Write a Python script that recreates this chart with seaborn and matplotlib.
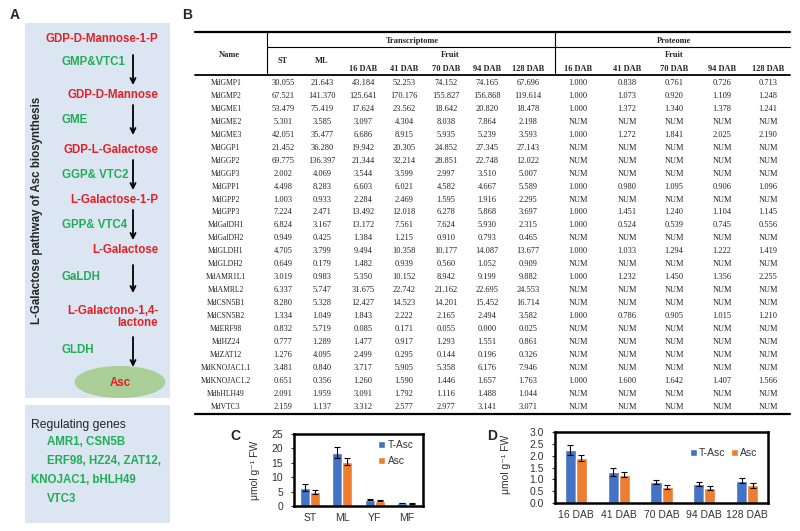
import pandas as pd
import matplotlib
matplotlib.use("Agg")
import matplotlib.pyplot as plt
from matplotlib.patches import Rectangle, Ellipse
import seaborn as sns

# -----------------------------------------------------
# Data
# -----------------------------------------------------

# Panel A: L-galactose pathway
metabolites = ["GDP-D-Mannose-1-P", "GDP-D-Mannose", "GDP-L-Galactose",
               "L-Galactose-1-P", "L-Galactose", "L-Galactono-1,4-\nlactone"]
enzymes = ["GMP&VTC1", "GME", "GGP& VTC2", "GPP& VTC4", "GaLDH", "GLDH"]
regulators = ["AMR1, CSN5B", "ERF98, HZ24, ZAT12,", "KNOJAC1, bHLH49", "VTC3"]

# Panel B: table
genes = ["MdGMP1", "MdGMP2", "MdGME1", "MdGME2", "MdGME3", "MdGGP1", "MdGGP2",
         "MdGGP3", "MdGPP1", "MdGPP2", "MdGPP3", "MdGalDH1", "MdGalDH2",
         "MdGLDH1", "MdGLDH2", "MdAMR1L1", "MdAMRL2", "MdCSN5B1", "MdCSN5B2",
         "MdERF98", "MdHZ24", "MdZAT12", "MdKNOJAC1.1", "MdKNOJAC1.2",
         "MdbHLH49", "MdVTC3"]
tr_st = [30.055, 67.521, 53.479, 5.301, 42.051, 21.452, 69.775, 2.002, 4.498,
         1.003, 7.224, 6.824, 0.949, 4.705, 0.649, 3.019, 6.337, 8.280, 1.334,
         0.832, 0.777, 1.276, 3.481, 0.651, 2.091, 2.159]
tr_ml = [21.643, 141.370, 75.419, 3.585, 35.477, 36.280, 136.397, 4.069, 8.283,
         0.933, 2.471, 3.167, 0.425, 3.799, 0.179, 0.983, 5.747, 5.328, 1.049,
         5.719, 1.289, 4.095, 0.840, 0.356, 1.959, 1.137]
tr_16 = [43.184, 125.641, 17.624, 3.097, 6.686, 19.942, 21.344, 3.544, 6.603,
         2.284, 13.492, 13.172, 1.384, 9.494, 1.482, 5.350, 31.675, 12.427,
         1.843, 0.085, 1.477, 2.499, 3.717, 1.260, 3.091, 3.312]
tr_41 = [52.253, 170.176, 23.562, 4.304, 8.915, 20.305, 32.214, 3.599, 6.021,
         2.469, 12.018, 7.561, 1.215, 10.358, 0.939, 10.152, 22.742, 14.523,
         2.222, 0.171, 0.917, 0.295, 5.905, 1.590, 1.792, 2.577]
tr_70 = [74.152, 155.827, 18.642, 8.038, 5.935, 24.852, 28.851, 2.997, 4.582,
         1.595, 6.278, 7.624, 0.910, 10.177, 0.560, 8.942, 21.162, 14.201,
         2.165, 0.055, 1.293, 0.144, 5.358, 1.446, 1.116, 2.977]
tr_94 = [74.165, 156.868, 20.820, 7.864, 5.239, 27.345, 22.748, 3.510, 4.667,
         1.916, 5.868, 5.930, 0.793, 14.087, 1.052, 9.199, 22.695, 15.452,
         2.494, 0.000, 1.551, 0.196, 6.176, 1.657, 1.488, 3.141]
tr_128 = [67.696, 119.614, 18.478, 2.198, 3.593, 27.143, 12.022, 5.007, 5.589,
          2.295, 3.697, 2.315, 0.465, 13.677, 0.909, 9.882, 24.553, 16.714,
          3.582, 0.025, 0.861, 0.326, 7.946, 1.763, 1.044, 3.071]
N = None
pr_16 = [1.000, 1.000, 1.000, N, 1.000, N, N, N, 1.000, N, 1.000, 1.000, N,
         1.000, N, 1.000, N, N, 1.000, N, N, N, N, 1.000, N, N]
pr_41 = [0.838, 1.073, 1.372, N, 1.272, N, N, N, 0.980, N, 1.451, 0.524, N,
         1.033, N, 1.232, N, N, 0.786, N, N, N, N, 1.600, N, N]
pr_70 = [0.761, 0.920, 1.340, N, 1.841, N, N, N, 1.095, N, 1.240, 0.539, N,
         1.294, N, 1.450, N, N, 0.905, N, N, N, N, 1.642, N, N]
pr_94 = [0.726, 1.109, 1.378, N, 2.025, N, N, N, 0.906, N, 1.104, 0.745, N,
         1.222, N, 1.356, N, N, 1.015, N, N, N, N, 1.407, N, N]
pr_128 = [0.713, 1.248, 1.241, N, 2.190, N, N, N, 1.096, N, 1.145, 0.556, N,
          1.419, N, 2.255, N, N, 1.210, N, N, N, N, 1.566, N, N]
tr_headers = ["ST", "ML", "16 DAB", "41 DAB", "70 DAB", "94 DAB", "128 DAB"]
pr_headers = ["16 DAB", "41 DAB", "70 DAB", "94 DAB", "128 DAB"]

# Panel C: tissues
c_tissues = ["ST", "ML", "YF", "MF"]
c_tasc = [6.4, 18.5, 2.2, 1.0]
c_tasc_err = [1.1, 2.0, 0.15, 0.1]
c_asc = [4.9, 15.3, 1.8, 0.85]
c_asc_err = [0.6, 1.2, 0.12, 0.1]

# Panel D: fruit development
d_stages = ["16 DAB", "41 DAB", "70 DAB", "94 DAB", "128 DAB"]
d_tasc = [2.24, 1.31, 0.88, 0.80, 0.95]
d_tasc_err = [0.2, 0.18, 0.08, 0.08, 0.09]
d_asc = [1.89, 1.19, 0.68, 0.63, 0.74]
d_asc_err = [0.13, 0.11, 0.10, 0.10, 0.10]

# -----------------------------------------------------
# Figure
# -----------------------------------------------------
sns.set_style("white")
plt.rcParams["font.family"] = ["Liberation Sans", "DejaVu Sans"]

RED = "#e41f26"
GREEN = "#1fae55"
BLUE = "#4472c4"
ORANGE = "#ed7d31"
SERIF = ["Liberation Serif", "DejaVu Serif"]
FS_A = 8.3

fig = plt.figure(figsize=(8, 5.31), dpi=100)
bg = fig.add_axes([0, 0, 1, 1])
bg.set_xlim(0, 800)
bg.set_ylim(531, 0)
bg.axis("off")

# panel letters
for lab, x, y in [("A", 10, 15), ("B", 182, 15), ("C", 230, 436), ("D", 487, 436)]:
    bg.text(x, y, lab, fontsize=10, fontweight="bold", va="center")

# ---- Panel A ----
bg.add_patch(Rectangle((25, 23), 145, 375, color="#dce6f2", lw=0))
bg.add_patch(Rectangle((25, 405), 145, 118, color="#dce6f2", lw=0))
bg.add_patch(Ellipse((120, 382), 91, 32, color="#a9cf97", lw=0))

met_y = [39, 95, 150, 200, 250, 317]
enz_y = [62, 120, 175, 225, 277, 350]
arrows = [(55, 85), (105, 135), (160, 190), (210, 240), (265, 293), (337, 367)]
for name, y in zip(metabolites, met_y):
    bg.text(158, y, name, color=RED, fontsize=FS_A, fontweight="bold",
            ha="right", va="center", multialignment="right", linespacing=1.1)
for name, y in zip(enzymes, enz_y):
    bg.text(62, y, name, color=GREEN, fontsize=FS_A, fontweight="bold",
            ha="left", va="center")
for y0, y1 in arrows:
    bg.annotate("", xy=(133, y1), xytext=(133, y0),
                arrowprops=dict(arrowstyle="->", lw=1.3, color="black",
                                mutation_scale=9, shrinkA=0, shrinkB=0))
bg.text(120, 383, "Asc", color=RED, fontsize=FS_A, fontweight="bold",
        ha="center", va="center")
bg.text(37, 210, "L-Galactose pathway of Asc biosynthesis", fontsize=FS_A,
        fontweight="bold", rotation=90, ha="center", va="center")

bg.text(31, 425, "Regulating genes", fontsize=8.7, ha="left", va="center")
for txt, x, y in zip(regulators, [47, 47, 31, 47], [442, 461, 480, 499]):
    bg.text(x, y, txt, color=GREEN, fontsize=FS_A, fontweight="bold",
            ha="left", va="center")

# ---- Panel B: table ----
TL, TR = 195, 790
bg.plot([TL, TR], [32, 32], color="black", lw=1.6)
bg.plot([267, TR], [47, 47], color="black", lw=0.8)
bg.plot([TL, TR], [75, 75], color="black", lw=1.3)
bg.plot([TL, TR], [414, 414], color="black", lw=1.6)
bg.plot([267, 267], [32, 75], color="black", lw=0.8)
bg.plot([555, 555], [32, 75], color="black", lw=0.8)

hdr = dict(fontsize=6, fontweight="bold", family=SERIF, ha="center", va="center")
cell = dict(fontsize=6, family=SERIF, ha="center", va="center", color="#222222")
bg.text(229, 55, "Name", **hdr)
bg.text(412, 41, "Transcriptome", **hdr)
bg.text(674, 41, "Proteome", **hdr)
bg.text(450, 55, "Fruit", **hdr)
bg.text(674, 55, "Fruit", **hdr)

tr_x = [283, 322, 363, 404, 446, 487, 528]
pr_x = [578, 627, 674, 722, 768]
for h, x in zip(tr_headers, tr_x):
    bg.text(x, 61 if h in ("ST", "ML") else 69, h, **hdr)
for h, x in zip(pr_headers, pr_x):
    bg.text(x, 69, h, **hdr)

tr_cols = [tr_st, tr_ml, tr_16, tr_41, tr_70, tr_94, tr_128]
pr_cols = [pr_16, pr_41, pr_70, pr_94, pr_128]
for i, g in enumerate(genes):
    y = 83 + 12.95 * i
    bg.text(226, y, g, **{**cell, "fontsize": 5.5})
    for col, x in zip(tr_cols, tr_x):
        bg.text(x, y, f"{col[i]:.3f}", **cell)
    for col, x in zip(pr_cols, pr_x):
        bg.text(x, y, "NUM" if col[i] is None else f"{col[i]:.3f}", **cell)


# ---- Panels C and D: bar charts ----
def bar_panel(ax, cats, tasc, tasc_err, asc, asc_err, width):
    df = pd.DataFrame({
        "cat": cats * 2,
        "value": tasc + asc,
        "type": ["T-Asc"] * len(cats) + ["Asc"] * len(cats),
    })
    sns.barplot(data=df, x="cat", y="value", hue="type", palette=[BLUE, ORANGE],
                width=width, errorbar=None, saturation=1, ax=ax)
    for cont, vals, errs in zip(ax.containers, [tasc, asc], [tasc_err, asc_err]):
        xs = [b.get_x() + b.get_width() / 2 for b in cont]
        ax.errorbar(xs, vals, yerr=errs, fmt="none", ecolor="black",
                    elinewidth=0.8, capsize=2, capthick=0.8)
    for s in ax.spines.values():
        s.set_linewidth(1.8)
        s.set_color("black")
    ax.set_xlabel("")
    ax.set_ylabel("μmol g⁻¹ FW", fontsize=7.5, color="#333333")
    ax.tick_params(axis="x", length=0, labelsize=7.5, labelcolor="#333333", pad=5)
    ax.tick_params(axis="y", length=2, width=0.8, labelsize=7.5,
                   labelcolor="#333333", pad=6, left=True)


axc = fig.add_axes([294 / 800, 1 - 506 / 531, 129 / 800, 72 / 531])
bar_panel(axc, c_tissues, c_tasc, c_tasc_err, c_asc, c_asc_err, 0.62)
axc.set_ylim(0, 25)
axc.set_yticks(range(0, 26, 5))
axc.yaxis.set_label_coords(-0.26, 0.5)
h, l = axc.get_legend_handles_labels()
axc.legend(h, l, loc="upper left", bbox_to_anchor=(0.62, 0.97), frameon=False,
           fontsize=7.3, handlelength=0.7, handleheight=0.7, handletextpad=0.3,
           labelspacing=0.6, labelcolor="#333333", borderaxespad=0)

axd = fig.add_axes([555 / 800, 1 - 503 / 531, 213 / 800, 71 / 531])
bar_panel(axd, d_stages, d_tasc, d_tasc_err, d_asc, d_asc_err, 0.52)
axd.set_ylim(0, 3.0)
axd.set_yticks([0, 0.5, 1.0, 1.5, 2.0, 2.5, 3.0])
axd.set_yticklabels([f"{v:.1f}" for v in [0, 0.5, 1.0, 1.5, 2.0, 2.5, 3.0]])
axd.yaxis.set_label_coords(-0.205, 0.55)
h, l = axd.get_legend_handles_labels()
axd.legend(h, l, loc="upper right", bbox_to_anchor=(0.97, 0.83), frameon=False,
           fontsize=7.5, ncol=2, handlelength=0.7, handleheight=0.7,
           handletextpad=0.2, columnspacing=0.5, labelcolor="#333333",
           borderaxespad=0)

fig.savefig("out.png", dpi=100)
